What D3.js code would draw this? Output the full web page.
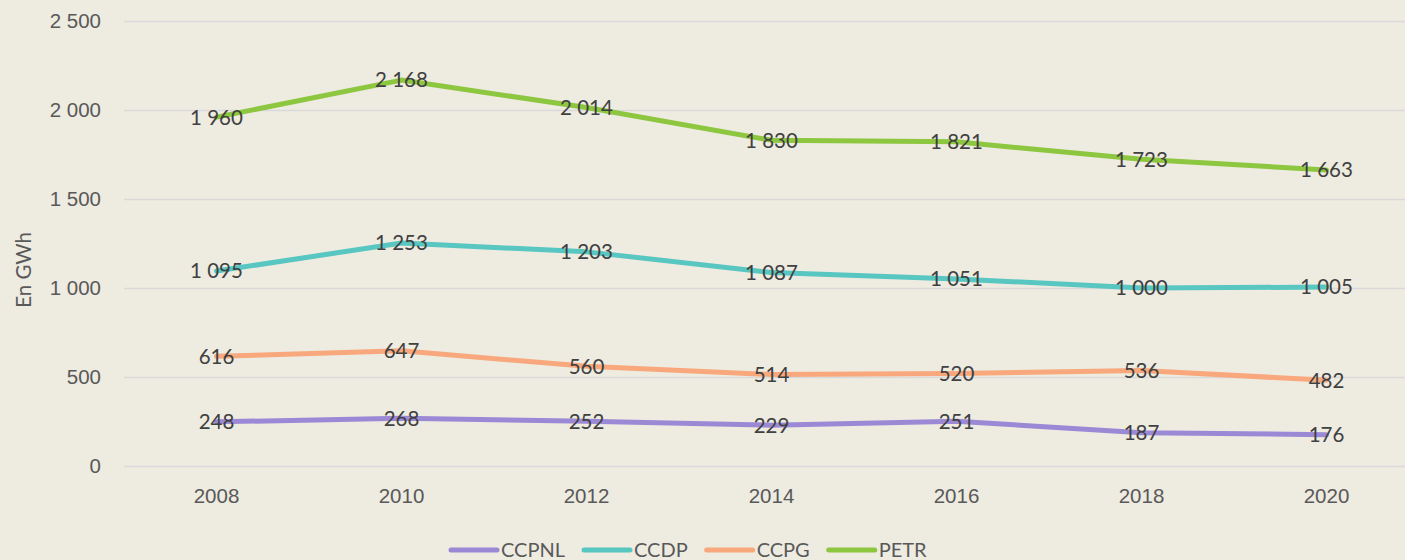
<!DOCTYPE html>
<html>
<head>
<meta charset="utf-8">
<script src="https://cdn.jsdelivr.net/npm/d3@7"></script>
<style>
  html, body { margin: 0; padding: 0; background: #eeebe1; }
  svg { display: block; font-family: Lato, "Open Sans", sans-serif; }
</style>
</head>
<body>
<svg id="chart" width="1405" height="560"></svg>
<script>
// Consumption per network, in GWh
const years = ["2008", "2010", "2012", "2014", "2016", "2018", "2020"];
const ccpnl = [248, 268, 252, 229, 251, 187, 176];
const ccdp  = [1095, 1253, 1203, 1087, 1051, 1000, 1005];
const ccpg  = [616, 647, 560, 514, 520, 536, 482];
const petr  = [1960, 2168, 2014, 1830, 1821, 1723, 1663];
const yTicks = [0, 500, 1000, 1500, 2000, 2500];

const series = [
  { name: "CCPNL", values: ccpnl, color: "#9b89d6" },
  { name: "CCDP",  values: ccdp,  color: "#58c6c1" },
  { name: "CCPG",  values: ccpg,  color: "#f8a87c" },
  { name: "PETR",  values: petr,  color: "#8dc63f" }
];

const svg = d3.select("#chart");
const W = 1405;

const x = d3.scaleBand().domain(years).range([124, 1419]).padding(0);
const y = d3.scaleLinear().domain([0, 2500]).range([466, 21]);
const cx = d => x(d) + x.bandwidth() / 2;

// French-style thousands separator (space)
const fmt = v => d3.format(",")(v).replace(/,/g, " ");

// Gridlines + y tick labels
const yAxis = d3.axisLeft(y).tickValues(yTicks).tickSize(-(W - 124)).tickFormat(fmt).tickPadding(23);
const gy = svg.append("g").attr("transform", "translate(124,0)").call(yAxis);
gy.select(".domain").remove();
gy.selectAll(".tick line").attr("stroke", "#d9d9d9").attr("stroke-width", 1.5);
gy.selectAll(".tick text").attr("fill", "#595959").style("font-size", "20.5px");

// x labels
const xAxis = d3.axisBottom(x).tickSize(0).tickPadding(22);
const gx = svg.append("g").attr("transform", "translate(0,466)").call(xAxis);
gx.select(".domain").remove();
gx.selectAll(".tick text").attr("fill", "#595959").style("font-size", "20.5px");

// Axis title
svg.append("text")
  .attr("transform", "translate(31,270) rotate(-90)")
  .attr("text-anchor", "middle")
  .attr("fill", "#595959")
  .style("font-size", "20.5px")
  .text("En GWh");

// Lines
const line = d3.line().x((d, i) => cx(years[i])).y(d => y(d));
series.forEach(s => {
  svg.append("path")
    .datum(s.values)
    .attr("d", line)
    .attr("fill", "none")
    .attr("stroke", s.color)
    .attr("stroke-width", 5)
    .attr("stroke-linejoin", "round")
    .attr("stroke-linecap", "round");
});

// Data labels centred on the points
series.forEach(s => {
  svg.append("g").selectAll("text")
    .data(s.values)
    .join("text")
    .attr("x", (d, i) => cx(years[i]))
    .attr("y", d => y(d))
    .attr("dy", "0.36em")
    .attr("text-anchor", "middle")
    .attr("fill", "#404040")
    .style("font-size", "20.5px")
    .text(d => fmt(d));
});

// Legend
const legend = svg.append("g").attr("transform", "translate(449,550)");
let lx = 0;
series.forEach(s => {
  const g = legend.append("g").attr("transform", `translate(${lx},0)`);
  g.append("line")
    .attr("x1", 2).attr("x2", 48).attr("y1", 0).attr("y2", 0)
    .attr("stroke", s.color).attr("stroke-width", 5).attr("stroke-linecap", "round");
  const t = g.append("text")
    .attr("x", 52).attr("dy", "0.36em")
    .attr("fill", "#595959")
    .style("font-size", "20px")
    .text(s.name);
  lx += 52 + t.node().getComputedTextLength() + 17;
});
</script>
</body>
</html>
